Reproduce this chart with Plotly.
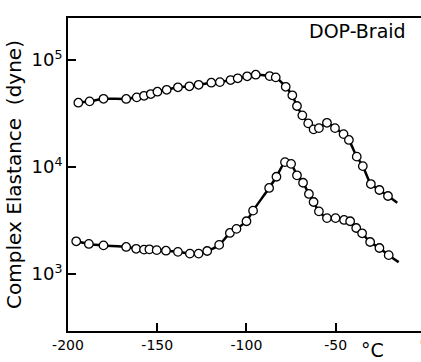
import plotly.graph_objects as go

# Temperature (°C) and complex elastance (dyne)
upper_T = [-194.2, -187.9, -180.1, -167.4, -161.5, -157.4, -153.6, -149.9, -144.7,
           -138.4, -132.0, -126.8, -119.7, -114.9, -108.9, -104.9, -99.6, -94.8,
           -87.0, -83.6, -78.0, -74.3, -71.7, -68.7, -65.4, -62.4, -59.4, -54.9,
           -50.4, -45.6, -42.6, -38.2, -34.8, -30.3, -25.5, -20.7]
upper_E = [39900, 41100, 43400, 43300, 44800, 46300, 48100, 50600, 52700,
           55600, 56800, 58700, 61400, 62200, 65000, 67500, 70500, 72900,
           70800, 68900, 56200, 46800, 37200, 30400, 25600, 22500, 23100, 25900,
           23100, 20300, 17900, 12500, 10200, 6930, 6100, 5360]
upper_end_T = -15.5
upper_end_E = 4630

lower_T = [-195.4, -188.3, -180.1, -167.4, -161.8, -157.4, -154.4, -150.3, -145.1,
           -138.4, -131.7, -126.8, -122.0, -115.3, -109.3, -105.6, -100.0, -96.3,
           -87.3, -83.2, -78.4, -75.0, -71.7, -68.3, -65.0, -62.4, -59.4, -54.9,
           -50.1, -45.3, -41.9, -38.5, -35.2, -30.7, -25.5, -20.3]
lower_E = [2020, 1910, 1850, 1790, 1720, 1690, 1700, 1670, 1650,
           1610, 1550, 1550, 1640, 1870, 2420, 2640, 3110, 3910,
           6370, 8110, 11100, 10700, 8360, 7130, 5600, 4710, 3850, 3330,
           3330, 3200, 3110, 2690, 2400, 1990, 1750, 1500]
lower_end_T = -14.7
lower_end_E = 1290

x_ticks = [-200, -150, -100, -50]
x_tick_text = ["-200", "-150", "-100", "-50"]
y_ticks = [1e3, 1e4, 1e5]
y_tick_text = ["10<sup>3</sup>", "10<sup>4</sup>", "10<sup>5</sup>"]

FONT = "DejaVu Sans"

fig = go.Figure()
for T, E, eT, eE in [(upper_T, upper_E, upper_end_T, upper_end_E),
                     (lower_T, lower_E, lower_end_T, lower_end_E)]:
    fig.add_trace(go.Scatter(x=T + [eT], y=E + [eE], mode="lines",
                             line=dict(color="black", width=2.5, shape="spline", smoothing=0.6),
                             hoverinfo="skip", showlegend=False))
    fig.add_trace(go.Scatter(x=T, y=E, mode="markers",
                             marker=dict(symbol="circle", size=8.5, color="white",
                                         line=dict(color="black", width=1.3)),
                             showlegend=False))

fig.update_layout(
    width=421, height=362,
    margin=dict(l=68, r=0, t=18, b=31),
    paper_bgcolor="white", plot_bgcolor="white",
    font=dict(family=FONT, color="black"),
    xaxis=dict(range=[-200, -2.2], showgrid=False, zeroline=False,
               showline=True, linecolor="black", linewidth=2, mirror=True,
               ticks="inside", ticklen=8, tickwidth=2, tickcolor="black",
               tickvals=x_ticks, ticktext=x_tick_text,
               tickfont=dict(size=14, family=FONT)),
    yaxis=dict(type="log", range=[2.467, 5.393], showgrid=False, zeroline=False,
               showline=True, linecolor="black", linewidth=2, mirror=False,
               ticks="inside", ticklen=8, tickwidth=2, tickcolor="black",
               tickvals=y_ticks, ticktext=y_tick_text,
               tickfont=dict(size=18, family=FONT),
               title=dict(text="Complex Elastance&nbsp;&nbsp;(dyne)", standoff=4,
                          font=dict(size=20, family=FONT))),
    annotations=[
        dict(text="DOP-Braid", xref="paper", yref="paper", x=0.82, y=0.96,
             xanchor="center", yanchor="middle", showarrow=False,
             font=dict(size=19, family=FONT)),
        dict(text="°C", xref="paper", yref="paper", x=(372 - 68) / 353, y=-0.06,
             xanchor="center", yanchor="middle", showarrow=False,
             font=dict(size=19, family=FONT)),
        dict(text="0", xref="paper", yref="paper", x=(418 - 68) / 353, y=-0.035,
             xanchor="left", yanchor="middle", showarrow=False,
             font=dict(size=14, family=FONT)),
    ],
)

fig.write_html("out.html")
